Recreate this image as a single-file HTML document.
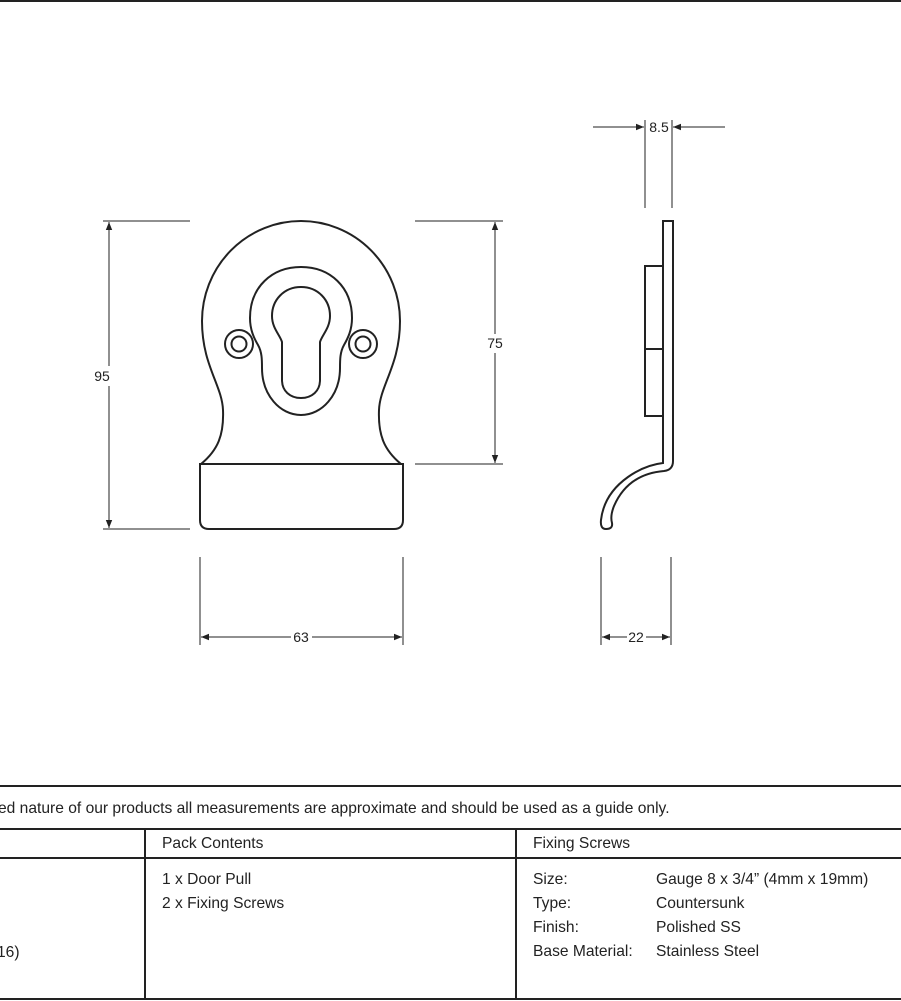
<!DOCTYPE html>
<html><head><meta charset="utf-8"><style>
html,body{margin:0;padding:0;background:#fff;}
svg{display:block;}
text{font-family:"Liberation Sans",sans-serif;fill:#222;}
</style></head><body>
<svg width="901" height="1001" viewBox="0 0 901 1001" xmlns="http://www.w3.org/2000/svg">
<defs>
<marker id="a" viewBox="0 0 10 10" refX="10" refY="5" markerWidth="10" markerHeight="8" orient="auto-start-reverse" markerUnits="userSpaceOnUse"><path d="M0,1 L10,5 L0,9 z" fill="#222"/></marker>
</defs>
<rect x="0" y="0" width="901" height="2" fill="#222"/>
<g fill="none" stroke="#222" stroke-width="2">
<path d="M201,464 C218,450 224,435 223,410 C222,385 202,365 202,321 A99,100 0 0 1 400,321 C400,365 380,385 379,410 C378,435 384,450 401,464"/>
<path d="M200,464 L403,464 L403,520 Q403,529 394,529 L209,529 Q200,529 200,520 Z"/>
<path d="M301,267 C330,267 352,287 352,318 C352,330 348,338 344,345 C340,352 340,360 340,368 C340,395 322,415 301,415 C280,415 262,395 262,368 C262,360 262,352 258,345 C254,338 250,330 250,318 C250,287 272,267 301,267 Z"/>
<path d="M301,287 C318,287 330,300 330,316 C330,328 322,335 320,342 L320,380 C320,391 312,398 301,398 C290,398 282,391 282,380 L282,342 C280,335 272,328 272,316 C272,300 284,287 301,287 Z"/>
<circle cx="239" cy="344" r="14"/><circle cx="239" cy="344" r="7.5"/>
<circle cx="363" cy="344" r="14"/><circle cx="363" cy="344" r="7.5"/>
<path d="M663,221 L673,221 L673,461 Q673,470 664,471 Q628,474 614,506 Q610,516 612,523 Q613,529 606,529 Q600,529 601,520 Q604,494 628,477 Q645,465 663,463 Z"/>
<rect x="645" y="266" width="18" height="150"/>
<line x1="645" y1="349" x2="663" y2="349"/>
</g>
<g stroke="#222" stroke-width="1" fill="none">
<line x1="103" y1="221" x2="190" y2="221"/><line x1="103" y1="529" x2="190" y2="529"/>
<line x1="109" y1="222" x2="109" y2="366" marker-start="url(#a)"/><line x1="109" y1="386" x2="109" y2="528" marker-end="url(#a)"/>
<line x1="415" y1="221" x2="503" y2="221"/><line x1="415" y1="464" x2="503" y2="464"/>
<line x1="495" y1="222" x2="495" y2="334" marker-start="url(#a)"/><line x1="495" y1="353" x2="495" y2="463" marker-end="url(#a)"/>
<line x1="200" y1="557" x2="200" y2="645"/><line x1="403" y1="557" x2="403" y2="645"/>
<line x1="201" y1="637" x2="291" y2="637" marker-start="url(#a)"/><line x1="312" y1="637" x2="402" y2="637" marker-end="url(#a)"/>
<line x1="601" y1="557" x2="601" y2="645"/><line x1="671" y1="557" x2="671" y2="645"/>
<line x1="602" y1="637" x2="627" y2="637" marker-start="url(#a)"/><line x1="646" y1="637" x2="670" y2="637" marker-end="url(#a)"/>
<line x1="645" y1="120" x2="645" y2="208"/><line x1="672" y1="120" x2="672" y2="208"/>
<line x1="593" y1="127" x2="644" y2="127" marker-end="url(#a)"/><line x1="725" y1="127" x2="673" y2="127" marker-end="url(#a)"/>
</g>
<g font-size="14">
<text x="102" y="381" text-anchor="middle">95</text>
<text x="495" y="348" text-anchor="middle">75</text>
<text x="301" y="642" text-anchor="middle">63</text>
<text x="636" y="642" text-anchor="middle">22</text>
<text x="659" y="132" text-anchor="middle">8.5</text>
</g>
<g stroke="#222" stroke-width="2">
<line x1="0" y1="786" x2="901" y2="786"/>
<line x1="0" y1="829" x2="901" y2="829"/>
<line x1="0" y1="858" x2="901" y2="858"/>
<line x1="0" y1="999" x2="901" y2="999"/>
<line x1="145" y1="829" x2="145" y2="999"/>
<line x1="516" y1="829" x2="516" y2="999"/>
</g>
<g font-size="15.6">
<text x="-2" y="813">ed nature of our products all measurements are approximate and should be used as a guide only.</text>
<text x="162" y="848">Pack Contents</text>
<text x="533" y="848">Fixing Screws</text>
<text x="162" y="884">1 x Door Pull</text>
<text x="162" y="908">2 x Fixing Screws</text>
<text x="-3" y="957">16)</text>
<text x="533" y="884">Size:</text>
<text x="533" y="908">Type:</text>
<text x="533" y="932">Finish:</text>
<text x="533" y="956">Base Material:</text>
<text x="656" y="884">Gauge 8 x 3/4” (4mm x 19mm)</text>
<text x="656" y="908">Countersunk</text>
<text x="656" y="932">Polished SS</text>
<text x="656" y="956">Stainless Steel</text>
</g>
</svg>
</body></html>
